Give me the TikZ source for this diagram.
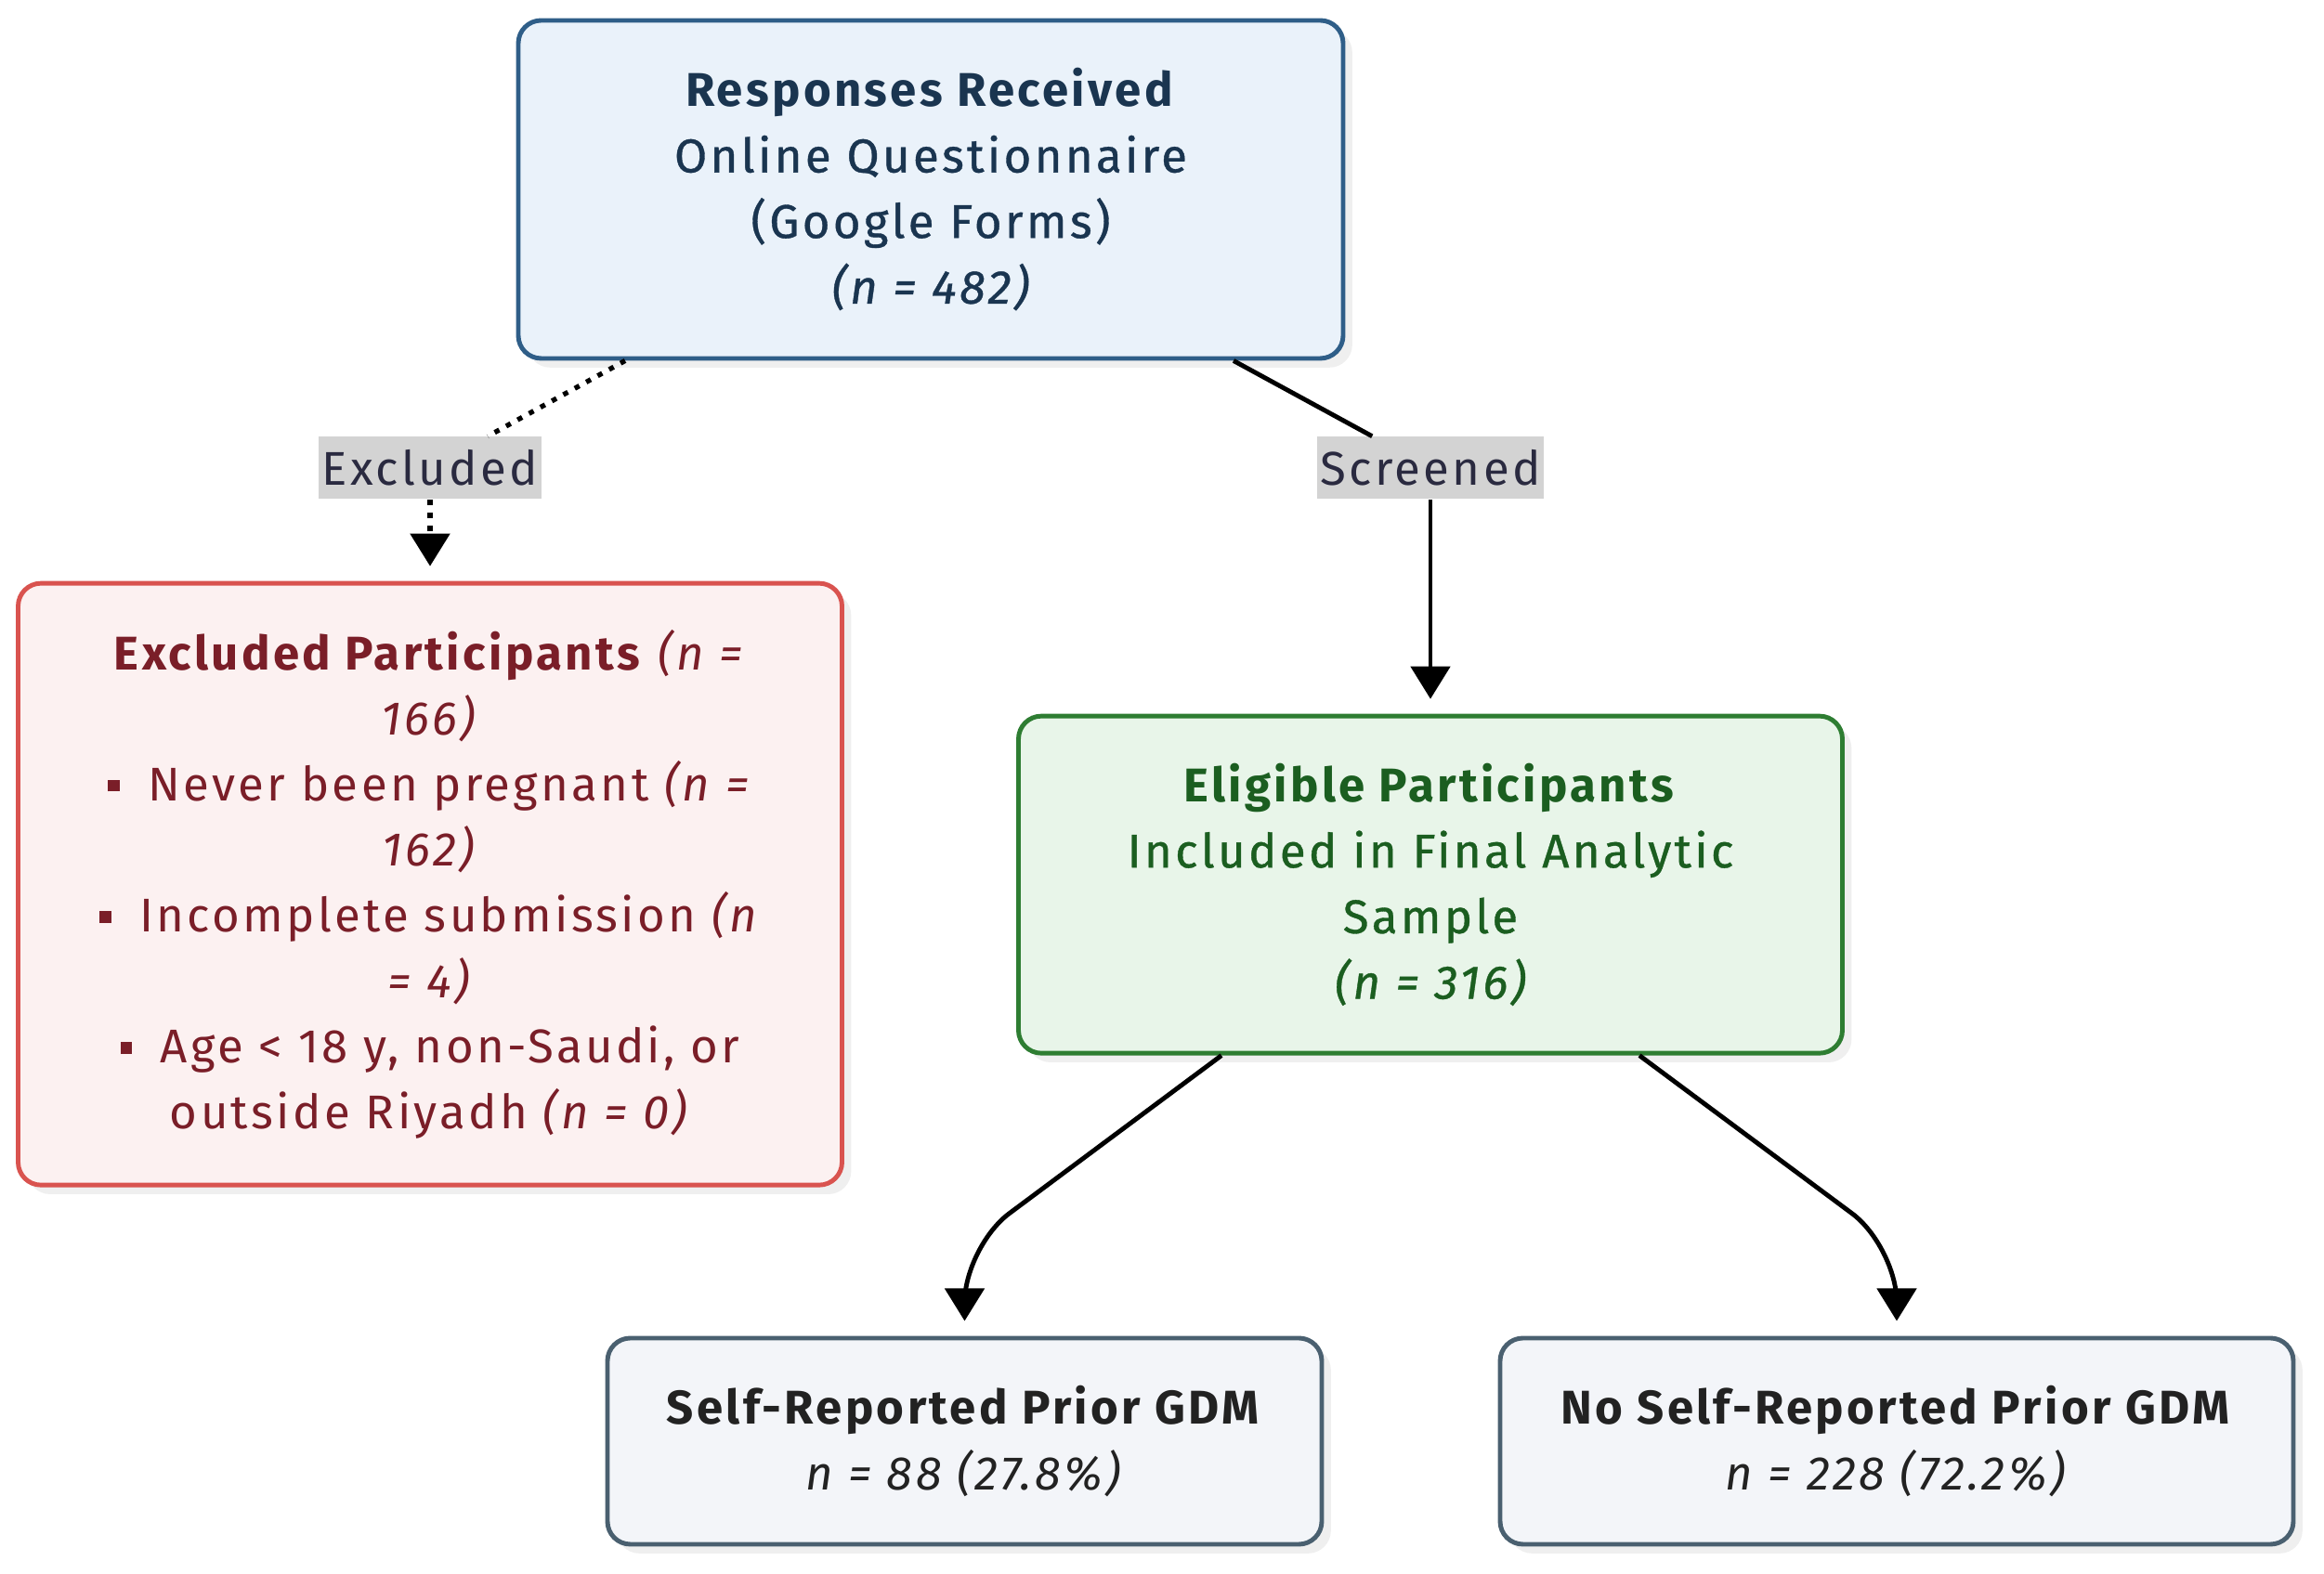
\documentclass[tikz,border=0pt]{standalone}
\usepackage{fontspec}
\setmainfont[LetterSpace=6.5]{Fira Sans}
\newfontfamily\medfont[LetterSpace=6.5, FakeBold=0.7]{Fira Sans}
\usepackage{xcolor}
\usepackage{tikz}
\usetikzlibrary{arrows.meta,positioning,shadows}

\definecolor{respfill}{HTML}{EAF2FA}
\definecolor{respdraw}{HTML}{2F5E88}
\definecolor{resptext}{HTML}{1A3550}
\definecolor{exfill}{HTML}{FCF1F1}
\definecolor{exdraw}{HTML}{D9534F}
\definecolor{extext}{HTML}{7A1E28}
\definecolor{eligfill}{HTML}{E8F5E9}
\definecolor{eligdraw}{HTML}{2E7D32}
\definecolor{eligtext}{HTML}{1B5E20}
\definecolor{gdmfill}{HTML}{F3F5F9}
\definecolor{gdmdraw}{HTML}{4A6070}
\definecolor{gdmtext}{HTML}{222222}
\definecolor{lblfill}{HTML}{D3D3D3}
\definecolor{lbltext}{HTML}{2A2A40}

\newcommand{\sqbul}{\rule[2.8pt]{3.6pt}{3.6pt}\hspace{0.6em}}

\begin{document}
\begin{tikzpicture}[
    font=\fontsize{14.5}{20.1}\selectfont,
    basebox/.style={
      rectangle, rounded corners=7pt, line width=1.4pt,
      align=center,
      drop shadow={opacity=0.12, shadow xshift=2.8pt, shadow yshift=-2.8pt},
    },
    respbox/.style={
      basebox, draw=respdraw, fill=respfill, text=resptext,
      minimum width=8.88cm, minimum height=3.64cm,
    },
    exbox/.style={
      basebox, draw=exdraw, fill=exfill, text=extext,
      minimum width=8.87cm, minimum height=6.48cm,
    },
    eligbox/.style={
      basebox, draw=eligdraw, fill=eligfill, text=eligtext,
      minimum width=8.87cm, minimum height=3.63cm,
    },
    gdmbox/.style={
      basebox, draw=gdmdraw, fill=gdmfill, text=gdmtext,
      minimum height=2.22cm,
    },
    lbl/.style={
      rectangle, fill=lblfill, text=lbltext,
      inner xsep=1pt, inner ysep=0pt, minimum height=0.67cm,
    },
    arr/.style={-{Triangle[width=12pt,length=10pt]}, line width=1.4pt, shorten >=0.16cm},
    link/.style={line width=1.4pt},
    dotline/.style={line width=1.5pt, dash pattern=on 1.6pt off 2.4pt},
  ]

  \fill[white] (0,0) rectangle (25.02,16.95);
  \useasboundingbox (0,0) rectangle (25.02,16.95);

  % Top: all responses
  \node[respbox] (resp) at (10.02,14.91)
    {\textbf{Responses Received}\\{\medfont Online Questionnaire}\\{\medfont (Google Forms)}\\{\medfont\itshape (n = 482)}};

  % Edge labels
  \node[lbl] (exl) at (4.63,11.91) {Excluded};
  \node[lbl] (scl) at (15.40,11.91) {Screened};

  % Middle tier: excluded / eligible
  \node[exbox, below=0.875cm of exl] (excl)
    {\textbf{Excluded Participants} \textit{(n =}\\
     \textit{166)}\\
     \sqbul Never been pregnant \textit{(n =}\\
     \textit{162)}\\
     \sqbul Incomplete submission \textit{(n}\\
     \textit{= 4)}\\
     \sqbul Age < 18 y, non-Saudi, or\\
     outside Riyadh \textit{(n = 0)}};
  \node[eligbox, below=2.305cm of scl] (elig)
    {\textbf{Eligible Participants}\\{\medfont Included in Final Analytic}\\{\medfont Sample}\\{\medfont\itshape (n = 316)}};

  % Bottom tier: GDM groups
  \node[gdmbox, minimum width=7.69cm] (gdm) at (10.385,1.43)
    {\textbf{Self-Reported Prior GDM}\\\textit{n = 88 (27.8\%)}};
  \node[gdmbox, minimum width=8.54cm] (nogdm) at (20.42,1.43)
    {\textbf{No Self-Reported Prior GDM}\\\textit{n = 228 (72.2\%)}};

  % Edges from top box
  \draw[dotline] ([xshift=-3.29cm]resp.south) -- (exl);
  \draw[arr, dotline] (exl) -- (excl);
  \draw[link] ([xshift=3.26cm]resp.south) -- (scl);
  \draw[arr] (scl) -- (elig);

  % Edges to GDM groups
  \coordinate (bendl) at ([yshift=0.96cm]gdm.north);
  \coordinate (bendr) at ([yshift=0.96cm]nogdm.north);
  \draw[arr, rounded corners=0.6cm] ([xshift=-2.25cm]elig.south) -- (bendl) -- (gdm.north);
  \draw[arr, rounded corners=0.6cm] ([xshift=2.25cm]elig.south) -- (bendr) -- (nogdm.north);

\end{tikzpicture}
\end{document}
